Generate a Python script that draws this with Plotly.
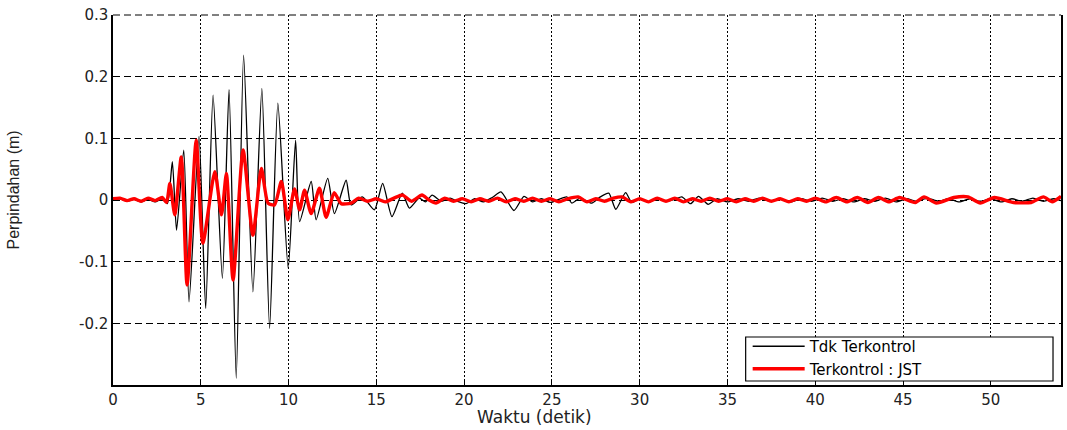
import plotly.graph_objects as go

# ---- data ----
t_uncontrolled = [0, 0.4, 0.8, 1.2, 1.6, 2.0, 2.4, 2.8, 3.1, 3.38, 3.62, 4.03, 4.33, 4.90, 5.28,
                  5.70, 6.23, 6.61, 7.02, 7.44, 7.97, 8.48, 8.92, 9.39, 9.98, 10.40, 10.63, 11.29,
                  11.57, 12.23, 12.61, 13.28, 13.56, 14.20, 14.89, 15.36, 15.89, 16.48, 16.88, 17.44,
                  17.8, 18.18, 18.7, 19.2, 19.6, 20.11, 20.6, 21.1, 21.6, 22.10, 22.84, 23.41, 23.9,
                  24.4, 24.9, 25.4, 25.85, 26.14, 26.6, 27.27, 27.7, 28.24, 28.64, 29.20, 29.55, 30.0,
                  30.5, 31.0, 31.5, 32.0, 32.4, 32.9, 33.35, 33.9, 34.4, 35.0, 35.6, 36.2, 36.8, 37.4,
                  38.0, 38.6, 39.2, 39.8, 40.4, 41.0, 41.6, 42.2, 42.8, 43.4, 44.0, 44.6, 45.2, 45.8,
                  46.4, 47.0, 47.6, 48.2, 48.8, 49.4, 50.0, 50.6, 51.2, 51.8, 52.4, 53.0, 53.6, 54.0]
y_uncontrolled = [0.001, 0.002, -0.002, 0.001, -0.003, 0.001, -0.003, 0.002, -0.006, 0.062, -0.049,
                  0.081, -0.165, 0.103, -0.176, 0.170, -0.127, 0.179, -0.289, 0.235, -0.149, 0.181,
                  -0.208, 0.157, -0.111, 0.097, -0.035, 0.030, -0.032, 0.035, -0.022, 0.032, -0.008,
                  0.005, -0.016, 0.027, -0.027, 0.011, -0.013, 0.003, -0.003, 0.008, -0.002, 0.003,
                  -0.002, -0.006, 0.002, -0.003, 0.004, 0.013, -0.017, 0.006, -0.003, 0.002, -0.004,
                  0.001, 0.005, -0.005, 0.003, -0.005, 0.004, 0.011, -0.015, 0.012, -0.004, 0.002,
                  -0.003, 0.002, -0.002, 0.001, 0.005, -0.006, 0.006, -0.007, 0.002, -0.003, 0.002,
                  -0.002, 0.003, -0.002, 0.001, -0.003, 0.002, -0.002, 0.003, -0.002, 0.002, -0.003,
                  0.002, -0.002, 0.003, -0.003, 0.002, -0.002, 0.003, -0.002, 0.002, -0.003, 0.002,
                  -0.002, 0.002, -0.003, 0.002, -0.002, 0.003, -0.002, 0.002, -0.001]

t_controlled = [0, 0.4, 0.8, 1.2, 1.6, 2.0, 2.4, 2.8, 3.05, 3.24, 3.52, 3.89, 4.22, 4.74, 5.12,
                5.80, 6.18, 6.46, 6.84, 7.41, 7.97, 8.45, 8.83, 9.2, 9.59, 9.96, 10.34, 10.63,
                10.91, 11.29, 11.76, 12.14, 12.6, 13.0, 13.56, 14.0, 14.5, 15.0, 15.5, 16.0, 16.5,
                17.0, 17.6, 18.0, 18.4, 18.9, 19.4, 19.9, 20.4, 20.9, 21.4, 21.9, 22.4, 22.9, 23.4,
                23.9, 24.4, 24.9, 25.4, 25.9, 26.5, 27.0, 27.5, 28.0, 28.5, 29.0, 29.5, 30.0, 30.5,
                31.0, 31.5, 32.0, 32.5, 33.0, 33.5, 34.0, 34.5, 35.0, 35.5, 36.0, 36.5, 37.0, 37.5,
                38.0, 38.5, 39.0, 39.5, 40.0, 40.6, 41.2, 41.8, 42.4, 43.0, 43.6, 44.2, 44.8, 45.7,
                46.2, 46.9, 47.9, 48.7, 49.4, 50.2, 51.3, 52.3, 53.0, 53.5, 54.0]
y_controlled = [0.002, 0.003, -0.001, 0.002, -0.002, 0.003, -0.001, 0.004, -0.004, 0.027, -0.024,
                0.070, -0.138, 0.097, -0.070, 0.046, -0.024, 0.043, -0.130, 0.081, -0.057, 0.051,
                -0.005, -0.008, 0.030, -0.032, 0.018, -0.016, 0.016, -0.022, 0.019, -0.028, 0.012,
                -0.006, -0.005, 0.003, -0.002, 0.002, -0.003, 0.003, 0.008, -0.002, 0.008, 0.000,
                -0.005, 0.003, -0.002, 0.002, -0.003, 0.002, -0.002, 0.003, -0.003, 0.002, -0.002,
                0.003, -0.002, 0.002, -0.003, 0.002, 0.005, -0.003, 0.002, -0.002, 0.003, 0.005,
                -0.003, 0.002, -0.003, 0.003, -0.002, 0.003, -0.003, 0.002, -0.002, 0.003, -0.002,
                0.002, -0.003, 0.002, -0.002, 0.003, -0.002, 0.002, -0.003, 0.002, -0.002, 0.003,
                -0.003, 0.004, -0.003, 0.004, -0.004, 0.004, -0.003, 0.004, -0.004, 0.005, -0.005,
                0.004, 0.005, -0.005, 0.004, -0.004, -0.004, 0.005, -0.003, 0.006, -0.004]

x_ticks = [0, 5, 10, 15, 20, 25, 30, 35, 40, 45, 50]
y_ticks = [-0.2, -0.1, 0, 0.1, 0.2, 0.3]
y_tick_text = ["-0.2", "-0.1", "0", "0.1", "0.2", "0.3"]

fig = go.Figure()
fig.add_trace(go.Scatter(x=t_uncontrolled, y=y_uncontrolled, mode="lines",
                         name="Tdk Terkontrol",
                         line=dict(color="black", width=1.3, shape="spline", smoothing=0.6)))
fig.add_trace(go.Scatter(x=t_controlled, y=y_controlled, mode="lines",
                         name="Terkontrol : JST",
                         line=dict(color="#ff0000", width=3.4, shape="spline", smoothing=0.6)))

tick_font = dict(family="DejaVu Sans", size=15, color="#222")

# legend frame position in paper coordinates (plot area: 113..1063 x 15..385 px)
PW, PH = 950.0, 370.0
box_x0, box_x1 = (747 - 113) / PW, (1055 - 113) / PW
box_y0, box_y1 = (385 - 381) / PH, (385 - 337) / PH

fig.update_layout(
    width=1067, height=430,
    margin=dict(l=113, r=4, t=15, b=45),
    plot_bgcolor="white", paper_bgcolor="white",
    showlegend=True,
    legend=dict(x=box_x0 + 2 / PW, y=(385 - 330) / PH, xanchor="left", yanchor="top",
                bgcolor="rgba(0,0,0,0)", borderwidth=0,
                font=dict(family="DejaVu Sans", size=15, color="black"),
                itemwidth=52, tracegroupgap=0),
    xaxis=dict(range=[0, 54], tickvals=x_ticks, ticks="inside", ticklen=5, tickcolor="black",
               showline=True, linecolor="black", linewidth=1.5, mirror=False,
               showgrid=True, gridcolor="black", gridwidth=1, griddash="2px,2px",
               zeroline=False, tickfont=tick_font),
    yaxis=dict(range=[-0.3, 0.3], tickvals=y_ticks, ticktext=y_tick_text, ticks="inside",
               ticklen=5, tickcolor="black",
               showline=True, linecolor="black", linewidth=1.5, mirror=True,
               showgrid=True, gridcolor="black", gridwidth=1, griddash="7px,4px",
               zeroline=False, tickfont=tick_font),
    shapes=[
        dict(type="line", xref="paper", yref="paper", x0=0, x1=1, y0=1, y1=1,
             line=dict(color="black", width=1, dash="7px,4px")),
        dict(type="rect", xref="paper", yref="paper", x0=box_x0, x1=box_x1, y0=box_y0, y1=box_y1,
             fillcolor="white", line=dict(color="black", width=1.2), layer="above"),
    ],
    annotations=[
        dict(text="Waktu (detik)", xref="paper", yref="paper", x=0.445, y=-0.0865,
             showarrow=False, font=dict(family="DejaVu Sans", size=17, color="#222"),
             xanchor="center", yanchor="middle"),
        dict(text="Perpindahan (m)", xref="paper", yref="paper", x=-0.105, y=0.527,
             showarrow=False, textangle=-90,
             font=dict(family="Liberation Sans", size=16, color="#222"),
             xanchor="center", yanchor="middle"),
    ],
)

fig.write_html("out.html")
